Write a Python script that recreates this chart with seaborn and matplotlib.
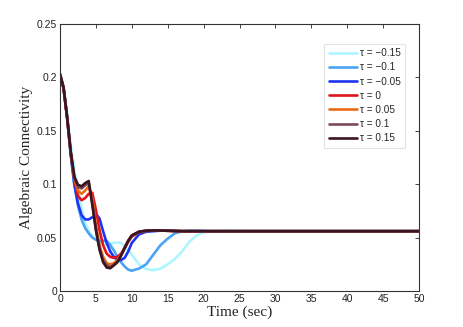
import pandas as pd
import matplotlib.pyplot as plt
import seaborn as sns

# sample times (sec)
t = [0, 0.5, 1, 1.5, 2, 2.5, 3, 3.5, 4, 4.5, 5, 5.5, 6, 6.5, 7, 7.5, 8, 8.5, 9, 9.5,
     10, 11, 12, 13, 14, 15, 16, 17, 18, 19, 20, 21, 22, 23, 24, 25, 30, 50]

tau_m015 = [0.203, 0.192, 0.167, 0.137, 0.113, 0.094, 0.078, 0.064, 0.056, 0.051, 0.048, 0.045, 0.044, 0.0435, 0.044, 0.045, 0.0455, 0.045, 0.042, 0.038,
            0.034, 0.025, 0.0205, 0.0195, 0.021, 0.025, 0.030, 0.037, 0.046, 0.052, 0.055, 0.0558, 0.0563, 0.0565, 0.0565, 0.0563, 0.056, 0.056]
tau_m010 = [0.203, 0.190, 0.162, 0.127, 0.099, 0.080, 0.067, 0.059, 0.054, 0.050, 0.048, 0.047, 0.047, 0.047, 0.043, 0.038, 0.032, 0.027, 0.023, 0.020,
            0.019, 0.021, 0.025, 0.034, 0.043, 0.049, 0.054, 0.056, 0.0565, 0.0565, 0.0563, 0.056, 0.056, 0.056, 0.056, 0.056, 0.056, 0.056]
tau_m005 = [0.203, 0.190, 0.162, 0.128, 0.100, 0.082, 0.071, 0.067, 0.067, 0.069, 0.072, 0.068, 0.056, 0.045, 0.037, 0.032, 0.029, 0.029, 0.031, 0.037,
            0.045, 0.053, 0.0555, 0.056, 0.0565, 0.0565, 0.0563, 0.056, 0.056, 0.056, 0.056, 0.056, 0.056, 0.056, 0.056, 0.056, 0.056, 0.056]
tau_000 = [0.203, 0.190, 0.162, 0.129, 0.104, 0.089, 0.085, 0.087, 0.091, 0.092, 0.076, 0.057, 0.043, 0.035, 0.032, 0.031, 0.032, 0.035, 0.040, 0.046,
           0.051, 0.055, 0.0563, 0.0567, 0.0566, 0.0564, 0.0562, 0.056, 0.056, 0.056, 0.056, 0.056, 0.056, 0.056, 0.056, 0.056, 0.056, 0.056]
tau_005 = [0.203, 0.190, 0.162, 0.129, 0.105, 0.094, 0.091, 0.094, 0.098, 0.087, 0.062, 0.043, 0.032, 0.026, 0.025, 0.026, 0.029, 0.034, 0.041, 0.047,
           0.052, 0.0555, 0.0564, 0.0567, 0.0566, 0.0564, 0.0562, 0.056, 0.056, 0.056, 0.056, 0.056, 0.056, 0.056, 0.056, 0.056, 0.056, 0.056]
tau_010 = [0.203, 0.190, 0.162, 0.130, 0.106, 0.097, 0.096, 0.099, 0.101, 0.082, 0.058, 0.040, 0.029, 0.024, 0.0225, 0.0245, 0.0275, 0.0335, 0.0405, 0.047,
           0.052, 0.0555, 0.0565, 0.0567, 0.0566, 0.0564, 0.0562, 0.056, 0.056, 0.056, 0.056, 0.056, 0.056, 0.056, 0.056, 0.056, 0.056, 0.056]
tau_015 = [0.203, 0.190, 0.162, 0.130, 0.107, 0.0995, 0.098, 0.101, 0.103, 0.081, 0.057, 0.039, 0.027, 0.022, 0.0213, 0.024, 0.027, 0.033, 0.040, 0.047,
           0.052, 0.0555, 0.0565, 0.0567, 0.0566, 0.0564, 0.0562, 0.056, 0.056, 0.056, 0.056, 0.056, 0.056, 0.056, 0.056, 0.056, 0.056, 0.056]

labels = ['τ = −0.15', 'τ = −0.1', 'τ = −0.05', 'τ = 0', 'τ = 0.05', 'τ = 0.1', 'τ = 0.15']
series = [tau_m015, tau_m010, tau_m005, tau_000, tau_005, tau_010, tau_015]
colors = ['#aef6ff', '#4aa3f5', '#1d35f0', '#e0141a', '#ee6a12', '#7c4a5c', '#3a1420']

frames = [pd.DataFrame({'time': t, 'value': v, 'tau': lab}) for lab, v in zip(labels, series)]
df = pd.concat(frames, ignore_index=True)

sns.set_style('white')
plt.rcParams['font.family'] = ['Liberation Sans', 'DejaVu Sans']

fig = plt.figure(figsize=(4.63, 3.27), dpi=100)
ax = fig.add_axes([60 / 463, 36 / 327, 359 / 463, 267 / 327])

sns.lineplot(data=df, x='time', y='value', hue='tau', hue_order=labels,
             palette=colors, linewidth=1.9, ax=ax)

ax.set_xlim(0, 50)
ax.set_ylim(0, 0.25)
ax.set_xticks(range(0, 51, 5))
ax.set_yticks([0, 0.05, 0.1, 0.15, 0.2, 0.25])
ax.set_yticklabels(['0', '0.05', '0.1', '0.15', '0.2', '0.25'])
ax.tick_params(direction='in', length=3, width=0.6, labelsize=7.5, colors='#222222',
               top=True, right=True, pad=2)
for s in ax.spines.values():
    s.set_color('#333333')
    s.set_linewidth(0.8)

ax.set_xlabel('Time (sec)', family='Liberation Serif', fontsize=11, labelpad=1)
ax.set_ylabel('Algebraic Connectivity', family='Liberation Serif', fontsize=11, labelpad=3)

leg = ax.legend(loc='upper right', bbox_to_anchor=(0.975, 0.945), fontsize=7.2,
                frameon=True, fancybox=False, handlelength=2.8, handletextpad=0.3,
                labelspacing=0.42, borderpad=0.45)
leg.get_frame().set_edgecolor('#dddddd')
leg.get_frame().set_linewidth(0.8)
for line in leg.get_lines():
    line.set_linewidth(1.9)

plt.savefig('out.png', dpi=100)
